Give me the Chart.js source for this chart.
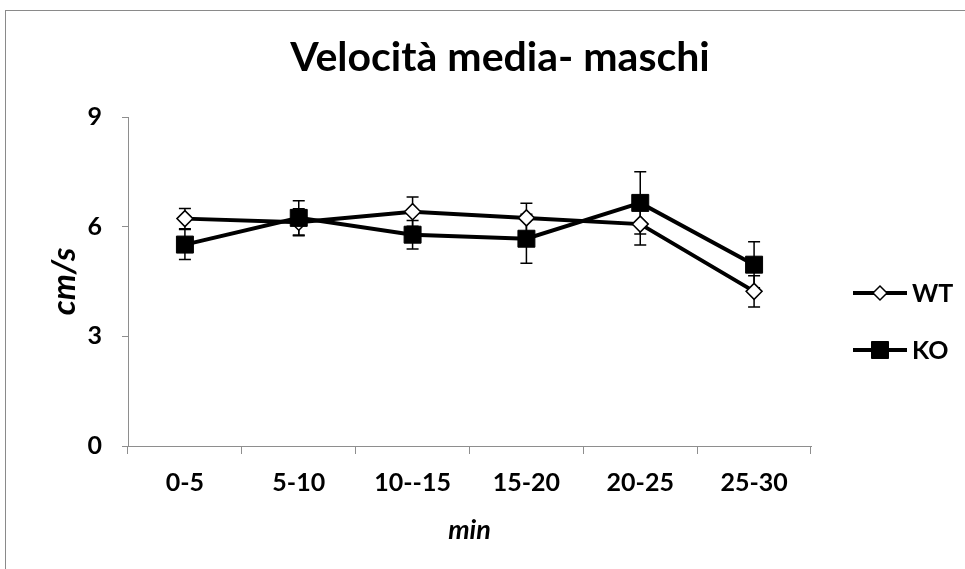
<!DOCTYPE html>
<html>
<head>
<meta charset="utf-8">
<script src="https://cdn.jsdelivr.net/npm/chart.js@4/dist/chart.umd.min.js"></script>
<style>
  html, body { margin: 0; padding: 0; background: #fff; }
  #wrap { position: relative; width: 965px; height: 569px; overflow: hidden; }
  #frame { position: absolute; left: 5px; top: 10px; width: 2000px; height: 2000px;
           border-left: 1px solid #8a8a8a; border-top: 1px solid #8a8a8a; }
  #c { position: absolute; left: 0; top: 0; }
</style>
</head>
<body>
<div id="wrap">
  <div id="frame"></div>
  <canvas id="c" width="965" height="569"></canvas>
</div>
<script>
// Mean speed per 5-minute block, males
const chartTitle = 'Velocità media- maschi';
const categories = ['0-5', '5-10', '10--15', '15-20', '20-25', '25-30'];
const yTicks = [0, 3, 6, 9];
const wtMean = [6.22, 6.12, 6.41, 6.24, 6.07, 4.23];
const wtErr  = [0.28, 0.37, 0.40, 0.40, 0.57, 0.43];
const koMean = [5.51, 6.24, 5.78, 5.67, 6.65, 4.96];
const koErr  = [0.41, 0.47, 0.39, 0.67, 0.85, 0.63];
const seriesNames = ['WT', 'KO'];

const FONT = 'Lato';
const AXIS_GREY = '#8e8e8e';

const wtStyle = { pointStyle: 'rectRot', radius: 8, bg: '#ffffff', border: '#000000', bw: 1.5 };
const koStyle = { pointStyle: 'rect', radius: 12, bg: '#000000', border: '#000000', bw: 1 };

// vertical error bars with caps, drawn beneath the markers
const errorBars = {
  id: 'errorBars',
  beforeDatasetsDraw(chart) {
    const ctx = chart.ctx;
    const y = chart.scales.y;
    ctx.save();
    ctx.strokeStyle = '#000';
    ctx.lineWidth = 1.5;
    chart.data.datasets.forEach((ds, i) => {
      const meta = chart.getDatasetMeta(i);
      meta.data.forEach((pt, j) => {
        const v = ds.data[j], e = ds.errors[j];
        const yTop = y.getPixelForValue(v + e);
        const yBot = y.getPixelForValue(v - e);
        const x = pt.x;
        ctx.beginPath();
        ctx.moveTo(x, yTop); ctx.lineTo(x, yBot);
        ctx.moveTo(x - 6, yTop); ctx.lineTo(x + 6, yTop);
        ctx.moveTo(x - 6, yBot); ctx.lineTo(x + 6, yBot);
        ctx.stroke();
      });
    });
    ctx.restore();
  }
};

// chart heading and the series key on the right
const decorations = {
  id: 'decorations',
  afterDraw(chart) {
    const ctx = chart.ctx;
    ctx.save();
    ctx.fillStyle = '#000';
    ctx.textAlign = 'center';
    ctx.textBaseline = 'alphabetic';
    ctx.font = 'bold 41px ' + FONT;
    ctx.fillText(chartTitle, 500, 71);

    const rows = [
      { name: seriesNames[0], style: wtStyle, y: 293 },
      { name: seriesNames[1], style: koStyle, y: 350 }
    ];
    rows.forEach(r => {
      ctx.strokeStyle = '#000';
      ctx.lineWidth = 4;
      ctx.beginPath();
      ctx.moveTo(853, r.y); ctx.lineTo(907, r.y);
      ctx.stroke();
      ctx.fillStyle = r.style.bg;
      ctx.strokeStyle = r.style.border;
      ctx.lineWidth = r.style.bw;
      const rad = r.style.pointStyle === 'rect' ? 12 : 7;
      Chart.helpers.drawPoint(ctx, { pointStyle: r.style.pointStyle, radius: rad, rotation: 0, borderWidth: r.style.bw }, 880, r.y);
      ctx.fillStyle = '#000';
      ctx.textAlign = 'left';
      ctx.font = 'bold 25px ' + FONT;
      ctx.fillText(r.name, 912, r.y + 9);
    });
    ctx.restore();
  }
};

new Chart(document.getElementById('c'), {
  type: 'line',
  data: {
    labels: categories,
    datasets: [
      {
        label: seriesNames[0],
        data: wtMean,
        errors: wtErr,
        borderColor: '#000',
        borderWidth: 4,
        tension: 0,
        pointStyle: wtStyle.pointStyle,
        pointRadius: wtStyle.radius,
        pointBackgroundColor: wtStyle.bg,
        pointBorderColor: wtStyle.border,
        pointBorderWidth: wtStyle.bw,
        order: 1
      },
      {
        label: seriesNames[1],
        data: koMean,
        errors: koErr,
        borderColor: '#000',
        borderWidth: 4,
        tension: 0,
        pointStyle: koStyle.pointStyle,
        pointRadius: koStyle.radius,
        pointBackgroundColor: koStyle.bg,
        pointBorderColor: koStyle.border,
        pointBorderWidth: koStyle.bw,
        order: 0
      }
    ]
  },
  options: {
    responsive: false,
    animation: false,
    events: [],
    layout: { padding: { top: 117, right: 154, bottom: 0, left: 0 } },
    plugins: {
      legend: { display: false },
      title: { display: false },
      tooltip: { enabled: false }
    },
    scales: {
      x: {
        offset: true,
        grid: { offset: true, drawOnChartArea: false, drawTicks: true, tickLength: 8, color: AXIS_GREY, lineWidth: 1 },
        border: { display: true, color: AXIS_GREY, width: 1 },
        ticks: { color: '#000', font: { family: FONT, size: 25, weight: 'bold' }, padding: 14, maxRotation: 0, autoSkip: false },
        title: { display: true, text: 'min', color: '#000', font: { family: FONT, size: 27, weight: 'bold', style: 'italic' }, padding: { top: 0, bottom: 23 } },
        afterFit(scale) { scale.height = 123; }
      },
      y: {
        min: 0,
        max: 9,
        afterBuildTicks(scale) { scale.ticks = yTicks.map(v => ({ value: v })); },
        grid: { drawOnChartArea: false, drawTicks: true, tickLength: 6, color: AXIS_GREY, lineWidth: 1 },
        border: { display: true, color: AXIS_GREY, width: 1 },
        ticks: { color: '#000', font: { family: FONT, size: 25, weight: 'bold' }, padding: 20 },
        title: { display: true, text: 'cm/s', color: '#000', font: { family: FONT, size: 33, weight: 'bold', style: 'italic' }, padding: { top: 45, bottom: 0 } },
        afterFit(scale) { scale.width = 128; }
      }
    }
  },
  plugins: [errorBars, decorations]
});
</script>
</body>
</html>
